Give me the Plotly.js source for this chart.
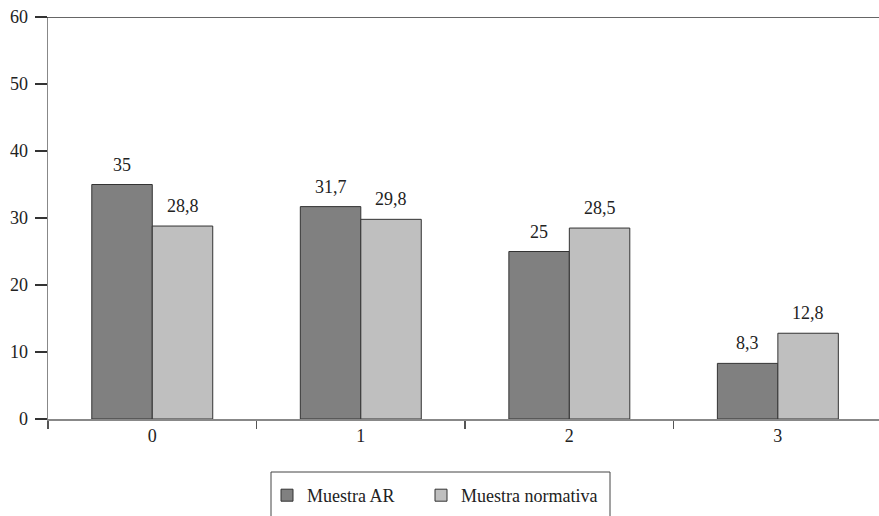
<!DOCTYPE html>
<html>
<head>
<meta charset="utf-8">
<script src="https://cdn.plot.ly/plotly-3.0.1.min.js"></script>
<style>html,body{margin:0;padding:0;background:#fff;}#chart{width:879px;height:516px;}</style>
</head>
<body>
<div id="chart"></div>
<script>
const categories = ["0", "1", "2", "3"];
const seriesNames = ["Muestra AR", "Muestra normativa"];
const muestraAR = [35, 31.7, 25, 8.3];
const muestraNormativa = [28.8, 29.8, 28.5, 12.8];
const yTicks = [0, 10, 20, 30, 40, 50, 60];

const fmt = v => String(v).replace('.', ',');
const W = 879, H = 516, ML = 48, MR = 0, MT = 17, MB = 97;
const plotW = W - ML - MR, plotH = H - MT - MB;
const xRange = [-0.5, 3.485];
const catPx = plotW / (xRange[1] - xRange[0]);
const bargap = 0.42;
const barPx = catPx * (1 - bargap) / 2;

const fontFam = 'Liberation Serif';

const traces = [
  {type: 'bar', name: seriesNames[0], x: categories, y: muestraAR, legend: 'legend',
   marker: {color: '#808080', line: {color: '#333333', width: 1}}, hoverinfo: 'none'},
  {type: 'bar', name: seriesNames[1], x: categories, y: muestraNormativa, legend: 'legend2',
   marker: {color: '#bfbfbf', line: {color: '#333333', width: 1}}, hoverinfo: 'none'}
];

const annotations = [];
[muestraAR, muestraNormativa].forEach((arr, s) => {
  arr.forEach((v, i) => {
    annotations.push({
      x: i, y: v, xref: 'x', yref: 'y', text: fmt(v), showarrow: false,
      xanchor: 'center', yanchor: 'bottom', xshift: (s === 0 ? -1 : 1) * barPx / 2, yshift: 8,
      font: {family: fontFam, size: 18, color: '#222'}
    });
  });
});

const px2paperX = p => (p - ML) / plotW;
const px2paperY = p => (H - MB - p) / plotH;

const legendBase = {orientation: 'h', xanchor: 'left', y: px2paperY(477), yanchor: 'top',
  borderwidth: 0, bgcolor: 'rgba(0,0,0,0)', font: {family: fontFam, size: 18, color: '#222'}};

const layout = {
  width: W, height: H,
  margin: {l: ML, r: MR, t: MT, b: MB, pad: 0},
  paper_bgcolor: '#fff', plot_bgcolor: '#fff',
  font: {family: fontFam, size: 18, color: '#222'},
  barmode: 'group', bargap: bargap, bargroupgap: 0,
  showlegend: true,
  legend: Object.assign({}, legendBase, {x: px2paperX(267)}),
  legend2: Object.assign({}, legendBase, {x: px2paperX(421)}),
  xaxis: {type: 'category', range: xRange, tickson: 'boundaries', ticks: 'outside', ticklen: 8,
          tickwidth: 1.2, tickcolor: '#555', showline: true, linecolor: '#888', linewidth: 1.5,
          showgrid: false, zeroline: false, fixedrange: true,
          tickfont: {family: fontFam, size: 18, color: '#222'}},
  yaxis: {range: [0, 60], tickvals: yTicks, ticktext: yTicks.map(String), ticks: 'outside', ticklen: 12,
          tickwidth: 1.2, tickcolor: '#333', showline: true, linecolor: '#888', linewidth: 1.5,
          showgrid: false, zeroline: false, fixedrange: true, ticklabelstandoff: 3,
          tickfont: {family: fontFam, size: 18, color: '#222'}},
  shapes: [
    {type: 'line', xref: 'paper', yref: 'y', x0: -12 / plotW, x1: 1, y0: 60, y1: 60,
     line: {color: '#333', width: 1.5}},
    {type: 'rect', xref: 'paper', yref: 'paper', x0: px2paperX(271), x1: px2paperX(610),
     y0: px2paperY(472), y1: px2paperY(540), line: {color: '#444', width: 1}, fillcolor: 'rgba(0,0,0,0)'}
  ],
  annotations: annotations
};

Plotly.newPlot('chart', traces, layout, {displayModeBar: false, staticPlot: true});
</script>
</body>
</html>
